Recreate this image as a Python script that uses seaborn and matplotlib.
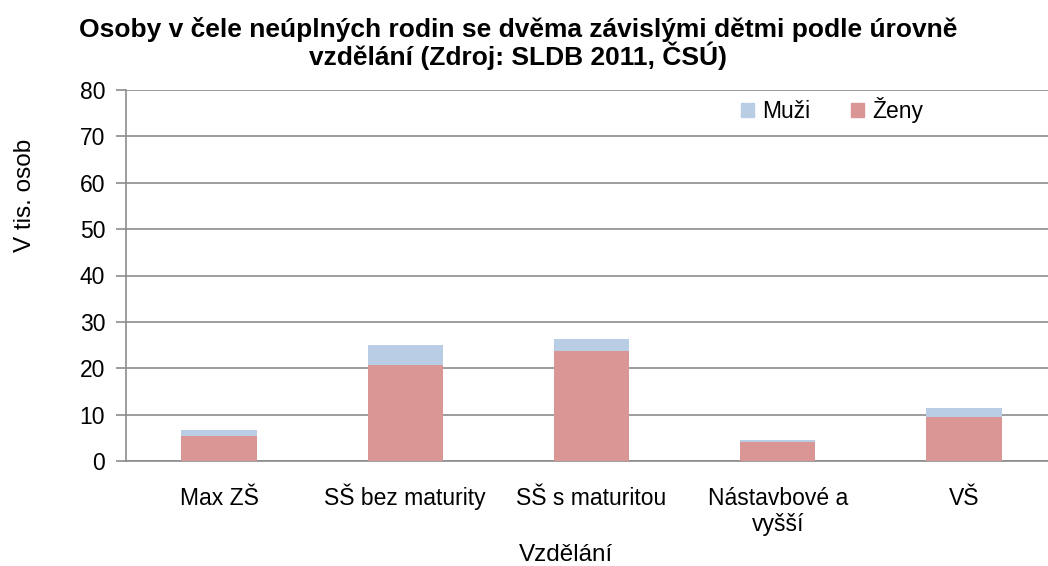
import numpy as np
import pandas as pd
import matplotlib
matplotlib.use("Agg")
import matplotlib.pyplot as plt
import seaborn as sns
from matplotlib.patches import Patch

# data (thousands of persons)
categories = ["Max ZŠ", "SŠ bez maturity", "SŠ s maturitou", "Nástavbové a\nvyšší", "VŠ"]
zeny = [5.3, 20.7, 23.8, 4.0, 9.5]
muzi = [1.35, 4.4, 2.5, 0.5, 1.9]

blue = "#B9CDE5"
pink = "#D99694"
grid_col = "#8C8C8C"

sns.set_style("white")
plt.rcParams["font.family"] = ["Liberation Sans", "DejaVu Sans"]
plt.rcParams["text.color"] = "black"
plt.rcParams["xtick.labelcolor"] = "black"
plt.rcParams["ytick.labelcolor"] = "black"

df = pd.DataFrame({"kat": categories, "Ženy": zeny, "Muži": muzi})
df["celkem"] = df["Ženy"] + df["Muži"]

fig = plt.figure(figsize=(10.48, 5.66), dpi=100)
ax = fig.add_axes([126 / 1048, 1 - 461 / 566, 931 / 1048, 371 / 566])

# stacked look: total in blue behind, women in pink in front
sns.barplot(data=df, x="kat", y="celkem", color=blue, width=0.406,
            saturation=1, linewidth=0, ax=ax, zorder=3)
sns.barplot(data=df, x="kat", y="Ženy", color=pink, width=0.406,
            saturation=1, linewidth=0, ax=ax, zorder=4)

ax.set_xlim(-0.5, 4.5)
ax.set_ylim(0, 80)
ax.set_yticks(np.arange(0, 81, 10))
ax.yaxis.grid(True, color=grid_col, linewidth=1.2, zorder=0)
ax.set_axisbelow(True)

for s in ["top", "right"]:
    ax.spines[s].set_visible(False)
for s in ["left", "bottom"]:
    ax.spines[s].set_color(grid_col)
    ax.spines[s].set_linewidth(1.2)

# every label gets two lines so the first lines share one baseline
labels = [c if "\n" in c else c + "\n" for c in categories]
ax.set_xticks(range(len(categories)), labels=labels)
ax.set_xticks(np.arange(-0.5, 5, 1), minor=True)
ax.tick_params(axis="x", which="major", length=0, pad=70 * 0.72, labelsize=16.5)
ax.tick_params(axis="x", which="minor", length=7, width=1.2, color=grid_col,
               direction="out")
ax.tick_params(axis="y", length=7, width=1.2, color=grid_col, direction="out",
               labelsize=16.5, pad=8, left=True)
for lab in ax.get_xticklabels():
    lab.set_verticalalignment("baseline")
    lab.set_linespacing(1.15)
ax.set_xlabel("")
ax.set_ylabel("")

fig.text(518 / 1048, 1 - 65 / 566,
         "Osoby v čele neúplných rodin se dvěma závislými dětmi podle úrovně\n"
         "vzdělání (Zdroj: SLDB 2011, ČSÚ)",
         ha="center", va="baseline", fontsize=19, fontweight="bold",
         multialignment="center", linespacing=1.0)
fig.text(25 / 1048, 1 - 195 / 566, "V tis. osob", rotation=90,
         ha="center", va="center", fontsize=17.5)
fig.text(566 / 1048, 1 - 561 / 566, "Vzdělání", ha="center", va="baseline",
         fontsize=17.5)

handles = [Patch(color=blue), Patch(color=pink)]
ax.legend(handles, ["Muži", "Ženy"], ncol=2, frameon=False, fontsize=16.5,
          loc="center", bbox_to_anchor=((832 - 126) / 931, (461 - 110) / 371),
          handlelength=0.55, handleheight=0.55, handletextpad=0.35,
          columnspacing=1.8)

fig.savefig("out.png", dpi=100)
